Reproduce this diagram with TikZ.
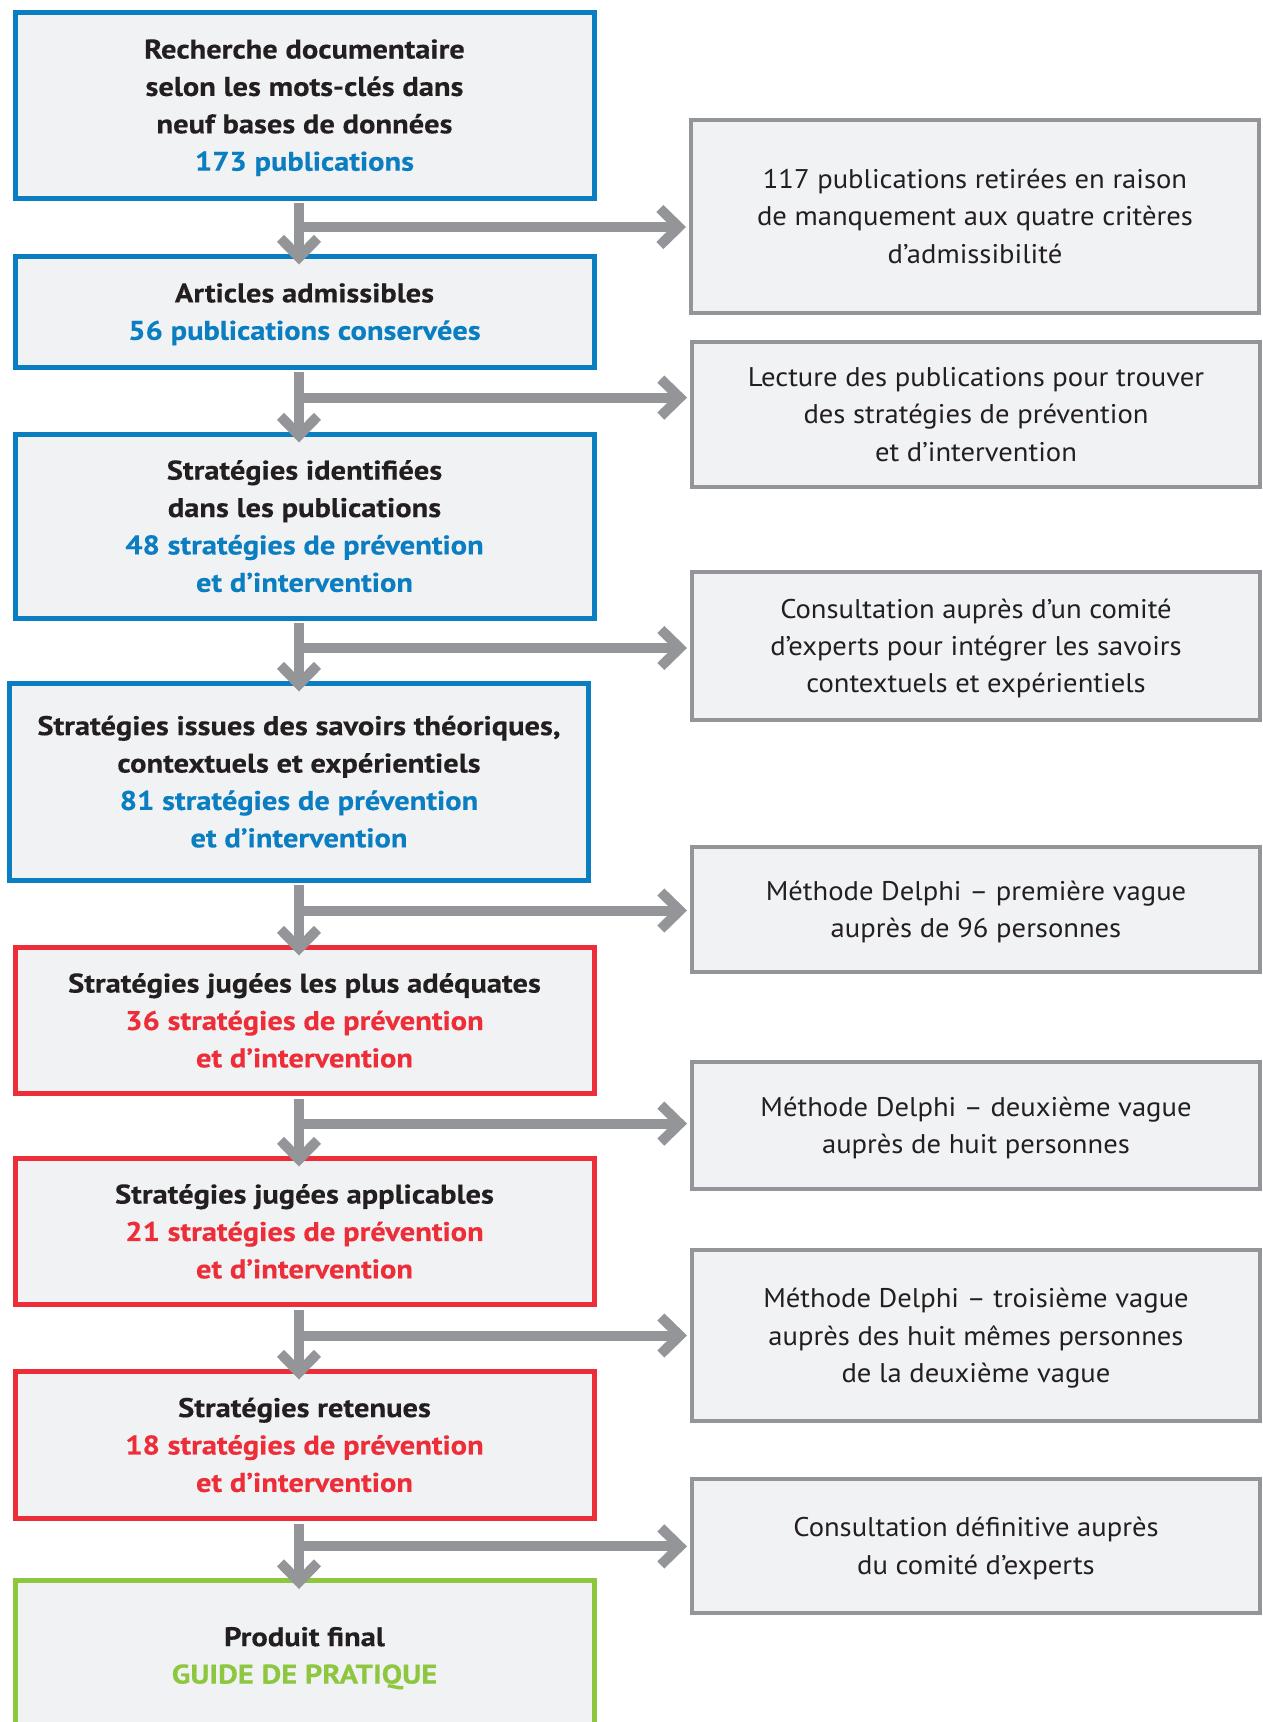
\documentclass[tikz,border=0pt]{standalone}
\usepackage{fontspec}
\setmainfont{PT Sans}
\newfontfamily\regfam[FakeStretch=1.06]{PT Sans}
\newfontfamily\boldfam[FakeStretch=1.13,BoldFeatures={FakeBold=0.3}]{PT Sans}
\usetikzlibrary{arrows.meta}
\definecolor{ablue}{HTML}{0B7DC1}
\definecolor{ared}{HTML}{ED2E38}
\definecolor{agreen}{HTML}{8DC63F}
\definecolor{agrey}{HTML}{939598}
\definecolor{boxfill}{HTML}{F1F2F4}
\definecolor{ink}{HTML}{231F20}
\begin{document}
\begin{tikzpicture}[x=1pt,y=-1pt,
  box/.style={draw, fill=boxfill, inner sep=0pt, align=center, text=ink, text depth=0pt},
  lbox/.style={box, line width=5pt, minimum width=579pt, font=\boldfam\bfseries\fontsize{27}{37.4}\selectfont},
  rbox/.style={box, draw=agrey, line width=4pt, minimum width=568pt, font=\regfam\fontsize{27}{37.4}\selectfont},
  flow/.style={draw=agrey, line width=10pt, -{Straight Barb[sharp, length=19pt, width=37pt, line width=0pt 1]}},
  down/.style={flow, shorten <=2.5pt, shorten >=-11pt},
  side/.style={flow, shorten >=3pt},
]
\useasboundingbox[fill=white] (0,0) rectangle (1263,1722);

% left column
\node[lbox, draw=ablue, minimum height=186pt] (b1) at (304.5,105) {Recherche documentaire\\selon les mots-clés dans\\neuf bases de données\\\textcolor{ablue}{173 publications}};
\node[lbox, draw=ablue, minimum height=111pt] (b2) at (304.5,311.5) {Articles admissibles\\\textcolor{ablue}{56 publications conservées}};
\node[lbox, draw=ablue, minimum height=184pt] (b3) at (304.5,526) {Stratégies identifiées\\dans les publications\\\textcolor{ablue}{48 stratégies de prévention}\\\textcolor{ablue}{et d’intervention}};
\node[lbox, draw=ablue, minimum height=197pt] (b4) at (299,781.5) {Stratégies issues des savoirs théoriques,\\contextuels et expérientiels\\\textcolor{ablue}{81 stratégies de prévention}\\\textcolor{ablue}{et d’intervention}};
\node[lbox, draw=ared, minimum height=146.5pt] (b5) at (304.5,1020.25) {Stratégies jugées les plus adéquates\\\textcolor{ared}{36 stratégies de prévention}\\\textcolor{ared}{et d’intervention}};
\node[lbox, draw=ared, minimum height=146.5pt] (b6) at (304.5,1231.25) {Stratégies jugées applicables\\\textcolor{ared}{21 stratégies de prévention}\\\textcolor{ared}{et d’intervention}};
\node[lbox, draw=ared, minimum height=147.5pt] (b7) at (304.5,1444.75) {Stratégies retenues\\\textcolor{ared}{18 stratégies de prévention}\\\textcolor{ared}{et d’intervention}};
\node[lbox, draw=agreen, minimum height=149.5pt] (b8) at (304.5,1655.25) {Produit final\\\textcolor{agreen}{GUIDE DE PRATIQUE}};

% right column
\node[rbox, minimum height=193.5pt] (r1) at (975,216.25) {117 publications retirées en raison\\de manquement aux quatre critères\\d’admissibilité};
\node[rbox, minimum height=145.2pt] (r2) at (976,414.1) {Lecture des publications pour trouver\\des stratégies de prévention\\et d’intervention};
\node[rbox, minimum height=147.6pt] (r3) at (976,645.8) {Consultation auprès d’un comité\\d’experts pour intégrer les savoirs\\contextuels et expérientiels};
\node[rbox, minimum height=125.4pt] (r4) at (976,909.3) {Méthode Delphi – première vague\\auprès de 96 personnes};
\node[rbox, minimum height=126.6pt] (r5) at (976,1125.3) {Méthode Delphi – deuxième vague\\auprès de huit personnes};
\node[rbox, minimum height=171.7pt] (r6) at (976,1335.55) {Méthode Delphi – troisième vague\\auprès des huit mêmes personnes\\de la deuxième vague};
\node[rbox, minimum height=133.3pt] (r7) at (976,1545.85) {Consultation définitive auprès\\du comité d’experts};

% connectors
\coordinate (stem) at (299,0);
\coordinate (h1) at (299,227);
\coordinate (h2) at (299,397.6);
\coordinate (h3) at (299,648);
\coordinate (h4) at (299,910.5);
\coordinate (h5) at (299,1123.6);
\coordinate (h6) at (299,1335.5);
\coordinate (h7) at (299,1546.4);

\draw[down] (b1.south -| stem) -- (b2.north -| stem);
\draw[down] (b2.south -| stem) -- (b3.north -| stem);
\draw[down] (b3.south -| stem) -- (b4.north -| stem);
\draw[down] (b4.south -| stem) -- (b5.north -| stem);
\draw[down] (b5.south -| stem) -- (b6.north -| stem);
\draw[down] (b6.south -| stem) -- (b7.north -| stem);
\draw[down] (b7.south -| stem) -- (b8.north -| stem);

\draw[side] (h1) -- (h1 -| r1.west);
\draw[side] (h2) -- (h2 -| r2.west);
\draw[side] (h3) -- (h3 -| r3.west);
\draw[side] (h4) -- (h4 -| r4.west);
\draw[side] (h5) -- (h5 -| r5.west);
\draw[side] (h6) -- (h6 -| r6.west);
\draw[side] (h7) -- (h7 -| r7.west);
\end{tikzpicture}
\end{document}
